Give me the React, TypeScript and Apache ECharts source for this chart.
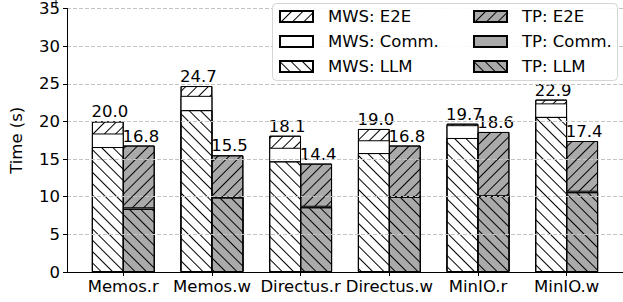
import React, { useEffect, useRef } from "react";
import * as echarts from "echarts";

const categories = ["Memos.r", "Memos.w", "Directus.r", "Directus.w", "MinIO.r", "MinIO.w"];
const mwsLLM = [16.6, 21.5, 14.7, 15.8, 17.8, 20.6];
const mwsComm = [1.8, 1.9, 1.8, 1.7, 1.7, 1.8];
const mwsE2E = [1.6, 1.3, 1.6, 1.5, 0.2, 0.5];
const tpLLM = [8.4, 9.9, 8.6, 10.0, 10.1, 10.6];
const tpComm = [0.2, 0.1, 0.2, 0.1, 0.1, 0.2];
const tpE2E = [8.2, 5.5, 5.6, 6.7, 8.4, 6.6];

const FONT = "DejaVu Sans";
const FS = 16.5;
const BAR_UNITS = 0.35;
const X_MIN = -0.635;
const X_MAX = 5.635;
const GRID_LEFT = 56;
const GRID_RIGHT = -2;
const WIDTH = 623;
const HEIGHT = 302;
const TP_GRAY = "#aaaaaa";

const pxPerUnit = (WIDTH - GRID_LEFT - GRID_RIGHT) / (X_MAX - X_MIN);
const barPx = BAR_UNITS * pxPerUnit;

const hatch = (rotation: number) => ({
  symbol: "rect",
  symbolSize: 1,
  dashArrayX: [1, 0],
  dashArrayY: [1, 7],
  rotation,
  color: "#000",
});
const fwd = hatch(-Math.PI / 4);
const back = hatch(Math.PI / 4);

const sum = (...arrs: number[][]) => arrs[0].map((_, i) => arrs.reduce((s, a) => s + a[i], 0));
// cumulative tops of each stacked segment
const mwsTopLLM = sum(mwsLLM);
const mwsTopComm = sum(mwsLLM, mwsComm);
const mwsTotal = sum(mwsLLM, mwsComm, mwsE2E);
const tpTopLLM = sum(tpLLM);
const tpTopComm = sum(tpLLM, tpComm);
const tpTotal = sum(tpLLM, tpComm, tpE2E);

function makeSeries(
  name: string,
  tops: number[],
  offset: number,
  color: string,
  decal: any,
  showTotal: boolean
) {
  return {
    name,
    type: "bar",
    z: 1,
    barWidth: barPx,
    barGap: "-100%",
    data: tops.map((v, i) => [i + offset, v]),
    itemStyle: {
      color,
      borderColor: "#000",
      borderWidth: 1,
      decal: decal || undefined,
    },
    label: showTotal
      ? {
          show: true,
          position: "top",
          distance: 1,
          offset: [2, 0],
          color: "#000",
          fontSize: FS,
          fontFamily: FONT,
          formatter: (p: any) => tops[p.dataIndex].toFixed(1),
        }
      : { show: false },
    emphasis: { disabled: true },
  };
}

export default function App() {
  const ref = useRef<HTMLDivElement>(null);
  useEffect(() => {
    if (!ref.current) return;
    const chart = echarts.init(ref.current, null, { renderer: "svg" });
    const off = BAR_UNITS / 2;
    const legendCommon = {
      orient: "vertical",
      top: 8,
      itemWidth: 33,
      itemHeight: 11,
      itemGap: 8,
      icon: "rect",
      padding: 0,
      selectedMode: false,
      z: 5,
      textStyle: { fontSize: FS, fontFamily: FONT, color: "#000", padding: [0, 0, 0, 10] },
    };
    chart.setOption({
      animation: false,
      textStyle: { fontFamily: FONT },
      grid: { left: GRID_LEFT, right: GRID_RIGHT, top: 7, bottom: 30, containLabel: false },
      xAxis: {
        type: "value",
        z: 2,
        min: X_MIN,
        max: X_MAX,
        axisLine: { show: true, onZero: false, lineStyle: { color: "#000", width: 1 } },
        axisTick: {
          show: true,
          length: 4,
          customValues: categories.map((_, i) => i),
          lineStyle: { color: "#000" },
        },
        axisLabel: {
          customValues: categories.map((_, i) => i),
          formatter: (v: number) => categories[Math.round(v)] ?? "",
          fontSize: FS,
          fontFamily: FONT,
          color: "#000",
          margin: 6,
        },
        splitLine: { show: false },
      },
      yAxis: {
        type: "value",
        z: 2,
        min: 0,
        max: 35,
        interval: 5,
        name: "Time (s)",
        nameLocation: "middle",
        nameGap: 42,
        nameTextStyle: { fontSize: FS, fontFamily: FONT, color: "#000" },
        axisLine: { show: true, onZero: false, lineStyle: { color: "#000", width: 1 } },
        axisTick: { show: true, length: 4, lineStyle: { color: "#000" } },
        axisLabel: { fontSize: FS, fontFamily: FONT, color: "#000", margin: 7 },
        splitLine: { show: true, lineStyle: { color: "#c4c4c4", type: [4, 2], width: 1 } },
      },
      legend: [
        { ...legendCommon, left: 279, data: ["MWS: E2E", "MWS: Comm.", "MWS: LLM"] },
        { ...legendCommon, left: 473, data: ["TP: E2E", "TP: Comm.", "TP: LLM"] },
      ],
      graphic: [
        {
          type: "rect",
          left: 272,
          top: 3,
          z: 4,
          shape: { width: 345, height: 77, r: 4 },
          style: { fill: "rgba(255,255,255,0.9)", stroke: "#d5d5d5", lineWidth: 1 },
        },
        {
          type: "line",
          z: 3,
          shape: { x1: GRID_LEFT, y1: 0, x2: GRID_LEFT, y2: 7 },
          style: { stroke: "#000", lineWidth: 1 },
        },
      ],
      // Stacks are drawn as overlapping bars from the baseline: the total first,
      // then the partial sums on top of it, so each segment shows its own fill.
      series: [
        makeSeries("MWS: E2E", mwsTotal, -off, "#ffffff", fwd, true),
        makeSeries("MWS: Comm.", mwsTopComm, -off, "#ffffff", null, false),
        makeSeries("MWS: LLM", mwsTopLLM, -off, "#ffffff", back, false),
        makeSeries("TP: E2E", tpTotal, off, TP_GRAY, fwd, true),
        makeSeries("TP: Comm.", tpTopComm, off, TP_GRAY, null, false),
        makeSeries("TP: LLM", tpTopLLM, off, TP_GRAY, back, false),
      ],
    });
    return () => chart.dispose();
  }, []);
  return (
    <div
      ref={ref}
      style={{ position: "fixed", left: 0, top: 0, width: WIDTH, height: HEIGHT, background: "#fff" }}
    />
  );
}
